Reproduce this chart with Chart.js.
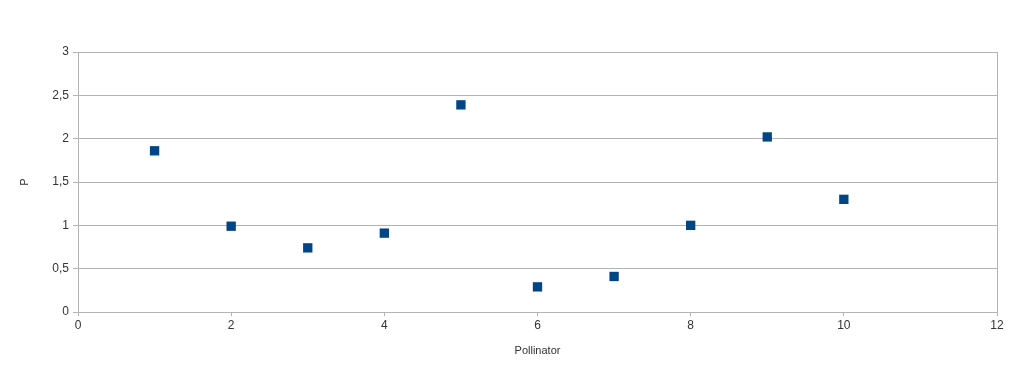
<!DOCTYPE html>
<html lang="en">
<head>
    <meta charset="UTF-8">
    <title>Pollinator P</title>
    <script src="https://cdn.jsdelivr.net/npm/chart.js@4.4.2/dist/chart.umd.min.js"></script>
    <style>
        html, body { margin: 0; padding: 0; background: #fff; }
        #wrap { position: relative; width: 1024px; height: 368px; }
    </style>
</head>
<body>
<div id="wrap"><canvas id="chart"></canvas></div>
<script>
    // --- Data ---
    const pollinator = [1, 2, 3, 4, 5, 6, 7, 8, 9, 10];
    const pValues = [1.86, 0.99, 0.74, 0.91, 2.39, 0.29, 0.41, 1.0, 2.02, 1.30];
    const xTitle = 'Pollinator';
    const yTitle = 'P';

    const points = pollinator.map((x, i) => ({ x: x, y: pValues[i] }));

    const gridGrey = '#b3b3b3';
    const textColor = '#333333';
    const fontFamily = '"Liberation Sans", Arial, sans-serif';

    new Chart(document.getElementById('chart'), {
        type: 'scatter',
        data: {
            datasets: [{
                label: yTitle,
                data: points,
                pointStyle: 'rect',
                pointRadius: 6.6,
                pointHoverRadius: 6.6,
                borderWidth: 0,
                backgroundColor: '#004586',
                borderColor: '#004586'
            }]
        },
        options: {
            responsive: true,
            maintainAspectRatio: false,
            animation: false,
            layout: { padding: { top: 52, right: 27, left: 0, bottom: 0 } },
            plugins: {
                legend: { display: false },
                tooltip: { enabled: false }
            },
            scales: {
                x: {
                    type: 'linear',
                    min: 0,
                    max: 12,
                    ticks: {
                        stepSize: 2,
                        color: textColor,
                        font: { family: fontFamily, size: 12 },
                        padding: 2
                    },
                    grid: {
                        color: ctx => (ctx.tick && (ctx.tick.value === 0 || ctx.tick.value === 12)) ? gridGrey : 'rgba(0,0,0,0)',
                        tickColor: gridGrey,
                        tickLength: 4,
                        drawOnChartArea: true
                    },
                    border: { color: gridGrey },
                    title: {
                        display: true,
                        text: xTitle,
                        color: textColor,
                        font: { family: fontFamily, size: 11 },
                        padding: { top: 6, bottom: 10 }
                    },
                    afterFit: scale => { scale.height = 56; }
                },
                y: {
                    min: 0,
                    max: 3,
                    ticks: {
                        stepSize: 0.5,
                        color: textColor,
                        font: { family: fontFamily, size: 12 },
                        padding: 4,
                        callback: v => String(v).replace('.', ',')
                    },
                    grid: {
                        color: gridGrey,
                        tickColor: gridGrey,
                        tickLength: 5
                    },
                    border: { color: gridGrey },
                    title: {
                        display: true,
                        text: yTitle,
                        color: textColor,
                        font: { family: fontFamily, size: 11 },
                        padding: { top: 18, bottom: 0 }
                    },
                    afterFit: scale => { scale.width = 78; }
                }
            }
        }
    });
</script>
</body>
</html>
